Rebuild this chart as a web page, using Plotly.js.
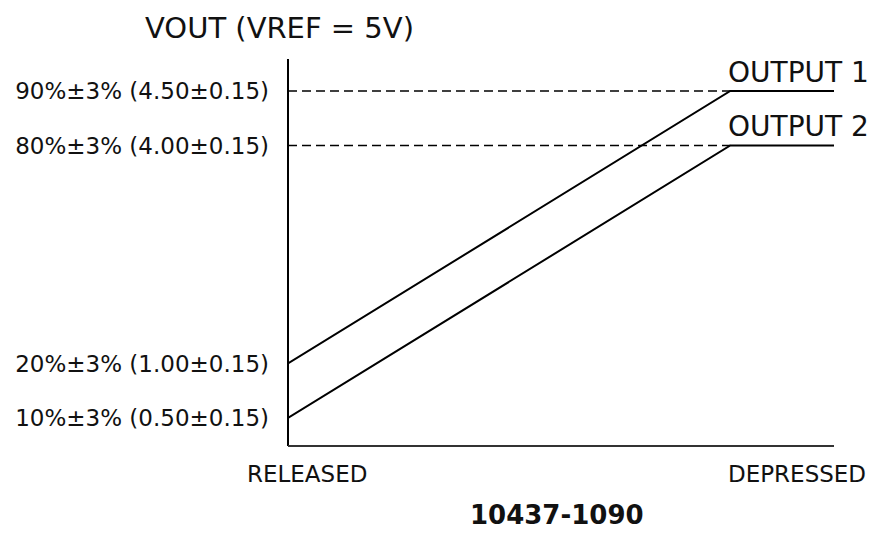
<!DOCTYPE html>
<html>
<head>
<meta charset="utf-8">
<script src="https://cdn.plot.ly/plotly-3.0.1.min.js"></script>
<style>
  html, body { margin: 0; padding: 0; background: #ffffff; }
  #chart { width: 876px; height: 533px; }
</style>
</head>
<body>
<div id="chart"></div>
<script>
// Schematic (not-to-scale) diagram: y values are level positions on the drawing
const positions = [0, 0.81, 1];                 // RELEASED -> ramp end -> DEPRESSED
const output1Levels = [2, 7, 7];                // 20% -> 90% -> 90%
const output2Levels = [1, 6, 6];                // 10% -> 80% -> 80%
const refLineX = [0, 0.81];
const refLevels = [7, 6];
const tickLevels = [1, 2, 6, 7];
const tickLabels = [
  "10%±3% (0.50±0.15)",
  "20%±3% (1.00±0.15)",
  "80%±3% (4.00±0.15)",
  "90%±3% (4.50±0.15)"
];
const seriesNames = ["OUTPUT 1", "OUTPUT 2"];
const xLabels = ["RELEASED", "DEPRESSED"];
const titleText = "VOUT (VREF = 5V)";
const figureId = "10437-1090";

const FONT = "DejaVu Sans";

const traces = [];
refLevels.forEach(function (lv) {
  traces.push({
    x: refLineX, y: [lv, lv], mode: "lines", hoverinfo: "skip",
    line: { color: "#000", width: 1.3, dash: "9px,5px" }, showlegend: false
  });
});
[output1Levels, output2Levels].forEach(function (ys, i) {
  traces.push({
    x: positions, y: ys, mode: "lines", name: seriesNames[i],
    line: { color: "#000", width: 2 }, showlegend: false
  });
});

const annotations = [
  { xref: "x", yref: "y", x: positions[1], y: output1Levels[2], text: seriesNames[0],
    showarrow: false, xanchor: "left", yanchor: "bottom", xshift: -4,
    font: { family: FONT, size: 28, color: "#111" } },
  { xref: "x", yref: "y", x: positions[1], y: output2Levels[2], text: seriesNames[1],
    showarrow: false, xanchor: "left", yanchor: "bottom", xshift: -4,
    font: { family: FONT, size: 28, color: "#111" } },
  { xref: "paper", yref: "paper", x: 0.0348, y: -0.0724, text: xLabels[0],
    showarrow: false, xanchor: "center", yanchor: "middle",
    font: { family: FONT, size: 23, color: "#111" } },
  { xref: "paper", yref: "paper", x: 1.0623, y: -0.0724, text: xLabels[1],
    showarrow: false, xanchor: "right", yanchor: "middle",
    font: { family: FONT, size: 23, color: "#111" } },
  { xref: "paper", yref: "paper", x: 0.4927, y: -0.178, text: "<b>" + figureId + "</b>",
    showarrow: false, xanchor: "center", yanchor: "middle",
    font: { family: FONT, size: 26, color: "#111" } },
  { xref: "paper", yref: "paper", x: -0.015, y: 1.03, text: titleText,
    showarrow: false, xanchor: "center", yanchor: "bottom",
    font: { family: FONT, size: 29, color: "#111" } }
];

const layout = {
  width: 876, height: 533,
  margin: { l: 288, r: 42, t: 59, b: 87 },
  paper_bgcolor: "#fff", plot_bgcolor: "#fff",
  showlegend: false,
  xaxis: {
    range: [0, 1], showgrid: false, zeroline: false, showticklabels: false,
    ticks: "", showline: false, fixedrange: true
  },
  yaxis: {
    range: [0.486, 7.587], showgrid: false, zeroline: false,
    tickvals: tickLevels, ticktext: tickLabels, ticks: "",
    ticklabelstandoff: 18,
    tickfont: { family: FONT, size: 23, color: "#111" },
    showline: false, fixedrange: true
  },
  shapes: [
    { type: "line", xref: "paper", yref: "paper", x0: 0, x1: 0, y0: 0, y1: 1,
      line: { color: "#000", width: 2 } },
    { type: "line", xref: "paper", yref: "paper", x0: 0, x1: 1, y0: 0, y1: 0,
      line: { color: "#333", width: 2 } }
  ],
  annotations: annotations
};

Plotly.newPlot("chart", traces, layout, { displayModeBar: false, staticPlot: true });
</script>
</body>
</html>
